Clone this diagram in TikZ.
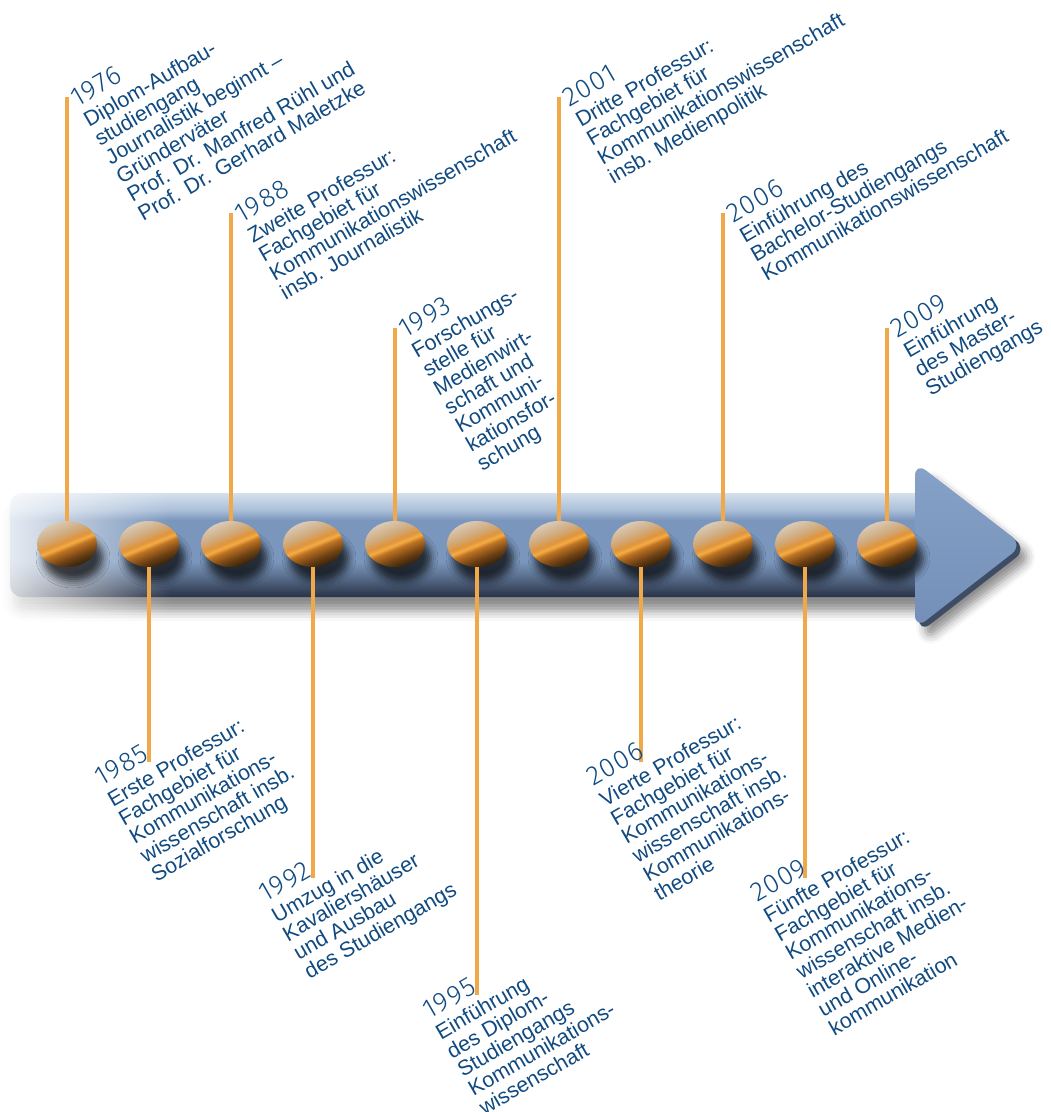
\documentclass[tikz,border=0pt]{standalone}
\usepackage{fontspec}
\setmainfont{Liberation Sans}
\newfontfamily\yearfont[LetterSpace=4]{Fira Sans Light}
\usetikzlibrary{shapes.geometric,shadows.blur,fadings,calc}
\tikzfading[name=leftfade, left color=transparent!0, right color=transparent!100]
\definecolor{txt}{RGB}{16,74,128}
\definecolor{stemc}{RGB}{240,168,72}
\definecolor{bdark}{RGB}{45,30,10}
\definecolor{bbrown}{RGB}{110,65,20}
\definecolor{bmid}{RGB}{190,115,35}
\definecolor{bband}{RGB}{245,172,68}
\definecolor{borange}{RGB}{222,148,60}
\definecolor{btan}{RGB}{208,170,125}
\definecolor{blight}{RGB}{218,204,186}
\pgfdeclareverticalshading{beadshade}{100bp}{color(0bp)=(bdark); color(25bp)=(bdark); color(35bp)=(bbrown); color(45bp)=(bmid); color(49bp)=(bband); color(53bp)=(borange); color(61bp)=(btan); color(75bp)=(blight); color(100bp)=(blight)}
\definecolor{sbot}{RGB}{40,50,70}
\definecolor{slow}{RGB}{60,74,98}
\definecolor{slow2}{RGB}{95,118,150}
\definecolor{smid}{RGB}{122,150,188}
\definecolor{shi}{RGB}{172,192,217}
\definecolor{stopc}{RGB}{212,224,237}
\pgfdeclareverticalshading{shaftshade}{100bp}{color(0bp)=(sbot); color(25bp)=(sbot); color(29bp)=(slow); color(36bp)=(slow2); color(42bp)=(smid); color(62bp)=(smid); color(67bp)=(shi); color(75bp)=(stopc); color(100bp)=(stopc)}
\definecolor{headside}{RGB}{62,76,100}
\definecolor{headtop}{RGB}{135,162,200}
\definecolor{headbot}{RGB}{115,143,183}
\newcommand\yr[1]{{\yearfont\fontsize{27}{27}\selectfont #1}}
\tikzset{
  stem/.style={draw=stemc, line width=3.5pt},
  bead/.style={ellipse, minimum width=60pt, minimum height=46pt, inner sep=0pt,
    shading=beadshade, shading angle=22,
    blur shadow={shadow xshift=6pt, shadow yshift=-14pt, shadow blur radius=7pt, shadow opacity=70}},
  lab/.style={text=txt, align=left, rotate=30, anchor=north west, inner sep=0pt,
    font=\fontsize{21.4}{21.7}\selectfont},
}
\begin{document}
\begin{tikzpicture}[x=1pt, y=-1pt]
\useasboundingbox (0,0) rectangle (1051,1112);
% shaft
\path[shading=shaftshade, rounded corners=12pt,
  blur shadow={shadow xshift=2pt, shadow yshift=-14pt, shadow blur radius=10pt, shadow opacity=45}]
  (10,493) rectangle (930,597);
% head
\path[fill=headside, rounded corners=14pt,
  blur shadow={shadow xshift=6pt, shadow yshift=-8pt, shadow blur radius=9pt, shadow opacity=45}]
  (919,466) -- (1027,549) -- (919,633) -- cycle;
\path[top color=headtop, bottom color=headbot, rounded corners=14pt]
  (915,462) -- (1023,545) -- (915,629) -- cycle;
% fade of the left end
\fill[white, path fading=leftfade] (-30,470) rectangle (170,650);
% beads
\foreach \i/\x in {1/67,2/149,3/231,4/313,5/395,6/477,7/559,8/641,9/723,10/805,11/887}
  \node[bead] (b\i) at (\x,544) {};
% stem ends
\coordinate (t1) at (67,97);
\coordinate (t2) at (149,762);
\coordinate (t3) at (231,213);
\coordinate (t4) at (313,878);
\coordinate (t5) at (395,328);
\coordinate (t6) at (477,995);
\coordinate (t7) at (559,97);
\coordinate (t8) at (641,762);
\coordinate (t9) at (723,213);
\coordinate (t10) at (805,878);
\coordinate (t11) at (887,328);
\foreach \i in {1,3,5,7,9,11} \draw[stem] (b\i.north) -- (t\i);
\foreach \i in {2,4,6,8,10} \draw[stem] (b\i.south) -- (t\i);
% labels above
\node[lab] (l1) at ($(t1)+(1,-5.5)$) {\yr{1976}\\[1.8pt]Diplom-Aufbau-\\studiengang\\Journalistik beginnt –\\Gründerväter\\Prof. Dr. Manfred Rühl und\\Prof. Dr. Gerhard Maletzke};
\node[lab] (l3) at ($(t3)+(1,-5.5)$) {\yr{1988}\\[1.8pt]Zweite Professur:\\Fachgebiet für\\Kommunikationswissenschaft\\insb. Journalistik};
\node[lab] (l5) at ($(t5)+(1,-5.5)$) {\yr{1993}\\[1.8pt]Forschungs-\\stelle für\\Medienwirt-\\schaft und\\Kommuni-\\kationsfor-\\schung};
\node[lab] (l7) at ($(t7)+(1,-5.5)$) {\yr{2001}\\[1.8pt]Dritte Professur:\\Fachgebiet für\\Kommunikationswissenschaft\\insb. Medienpolitik};
\node[lab] (l9) at ($(t9)+(1,-5.5)$) {\yr{2006}\\[1.8pt]Einführung des\\Bachelor-Studiengangs\\Kommunikationswissenschaft};
\node[lab] (l11) at ($(t11)+(1,-5.5)$) {\yr{2009}\\[1.8pt]Einführung\\des Master-\\Studiengangs};
% labels below
\node[lab] (l2) at ($(t2)+(-57,9)$) {\yr{1985}\\[1.8pt]Erste Professur:\\Fachgebiet für\\Kommunikations-\\wissenschaft insb.\\Sozialforschung};
\node[lab] (l4) at ($(t4)+(-57,9)$) {\yr{1992}\\[1.8pt]Umzug in die\\Kavaliershäuser\\und Ausbau\\des Studiengangs};
\node[lab] (l6) at ($(t6)+(-57,9)$) {\yr{1995}\\[1.8pt]Einführung\\des Diplom-\\Studiengangs\\Kommunikations-\\wissenschaft};
\node[lab] (l8) at ($(t8)+(-57,9)$) {\yr{2006}\\[1.8pt]Vierte Professur:\\Fachgebiet für\\Kommunikations-\\wissenschaft insb.\\Kommunikations-\\theorie};
\node[lab] (l10) at ($(t10)+(-57,9)$) {\yr{2009}\\[1.8pt]Fünfte Professur:\\Fachgebiet für\\Kommunikations-\\wissenschaft insb.\\interaktive Medien-\\und Online-\\kommunikation};
\end{tikzpicture}
\end{document}
